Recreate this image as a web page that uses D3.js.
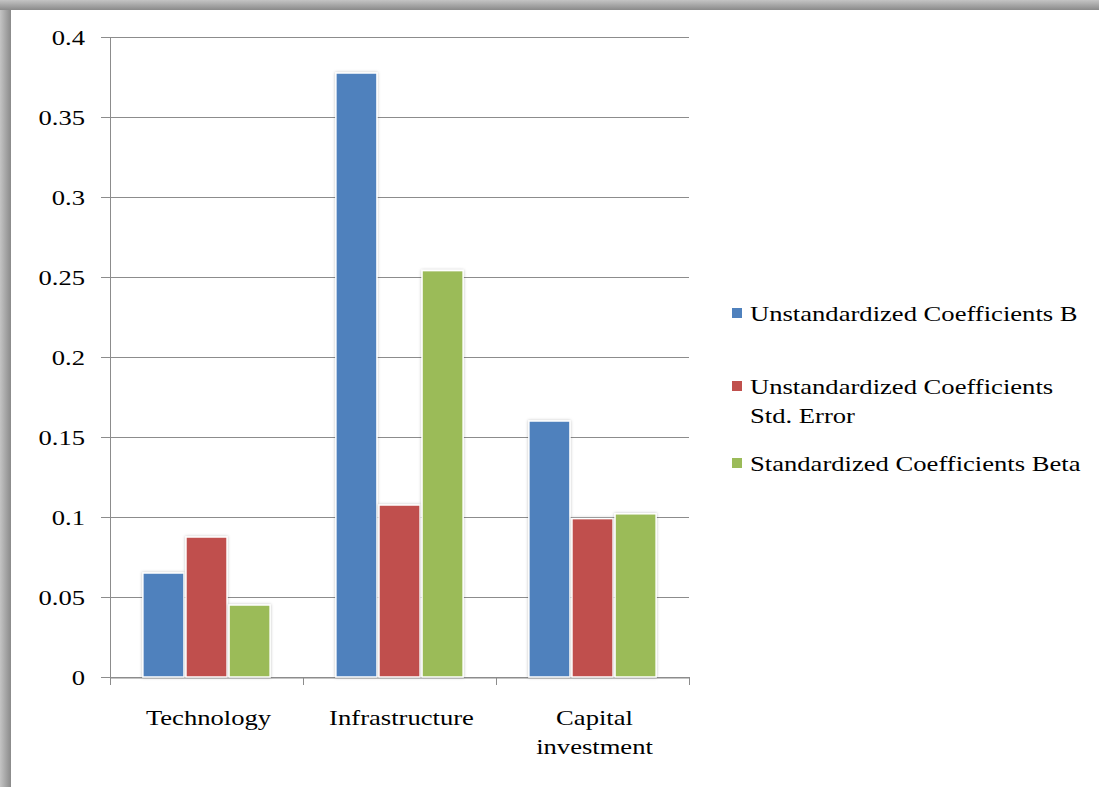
<!DOCTYPE html>
<html>
<head>
<meta charset="utf-8">
<script src="https://cdn.jsdelivr.net/npm/d3@7"></script>
<style>
  body { margin: 0; background: #fff; }
  svg { display: block; }
  svg text { font-family: "Liberation Serif", "Times New Roman", serif; }
</style>
</head>
<body>
<div id="chart-area"></div>
<script>
var categories = ['Technology', 'Infrastructure', 'Capital investment'];
var seriesNames = ['Unstandardized Coefficients B', 'Unstandardized Coefficients Std. Error', 'Standardized Coefficients Beta'];
var seriesB = [0.065, 0.3775, 0.16];
var seriesStdError = [0.0875, 0.1075, 0.099];
var seriesBeta = [0.045, 0.254, 0.102];
var yTicks = [0, 0.05, 0.1, 0.15, 0.2, 0.25, 0.3, 0.35, 0.4];
var colors = ['#4F81BD', '#C0504D', '#9BBB59'];

var W = 1099, H = 787;
var margin = { left: 110, top: 37 };
var width = 579, height = 640;
var sx = 1.21; // the original text is drawn a bit wide

var svg = d3.select('#chart-area')
  .append('svg')
  .attr('width', W)
  .attr('height', H);

var defs = svg.append('defs');
var gl = defs.append('linearGradient').attr('id', 'edgeLeft').attr('x1', 0).attr('x2', 1).attr('y1', 0).attr('y2', 0);
gl.append('stop').attr('offset', '0%').attr('stop-color', '#c4c4c4');
gl.append('stop').attr('offset', '100%').attr('stop-color', '#8a8a8a');
var gt = defs.append('linearGradient').attr('id', 'edgeTop').attr('x1', 0).attr('x2', 0).attr('y1', 0).attr('y2', 1);
gt.append('stop').attr('offset', '0%').attr('stop-color', '#c4c4c4');
gt.append('stop').attr('offset', '100%').attr('stop-color', '#8a8a8a');

var shadow = defs.append('filter').attr('id', 'barShadow')
  .attr('x', '-20%').attr('y', '-5%').attr('width', '140%').attr('height', '110%');
shadow.append('feDropShadow').attr('dx', 0).attr('dy', 0).attr('stdDeviation', 1.5)
  .attr('flood-color', '#000').attr('flood-opacity', 0.25);

// frame edges
svg.append('rect').attr('x', 0).attr('y', 0).attr('width', W).attr('height', H).attr('fill', '#fff');
svg.append('rect').attr('x', 0).attr('y', 0).attr('width', 11).attr('height', H).attr('fill', 'url(#edgeLeft)');
svg.append('rect').attr('x', 0).attr('y', 0).attr('width', W).attr('height', 10).attr('fill', 'url(#edgeTop)');

var g = svg.append('g')
  .attr('transform', 'translate(' + margin.left + ', ' + margin.top + ')');

var y = d3.scaleLinear()
  .domain([0, 0.4])
  .range([height, 0]);

var x0 = d3.scaleBand()
  .domain(categories)
  .range([0, width])
  .padding(0);

var x1 = d3.scaleBand()
  .domain(d3.range(3))
  .range([0, x0.bandwidth()])
  .paddingInner(0)
  .paddingOuter(0.74);

// gridlines
g.append('g')
  .selectAll('line')
  .data(yTicks)
  .enter()
  .append('line')
    .attr('x1', -9)
    .attr('x2', width)
    .attr('y1', function(d) { return Math.round(y(d)) + 0.5; })
    .attr('y2', function(d) { return Math.round(y(d)) + 0.5; })
    .attr('stroke', '#8c8c8c')
    .attr('stroke-width', 1);

// Y axis
var yAxisCall = d3.axisLeft(y)
  .tickValues(yTicks)
  .tickSize(0)
  .tickFormat(function(d) { return String(+d.toFixed(2)); });
var yAxis = g.append('g').call(yAxisCall);
yAxis.select('.domain').remove();
yAxis.selectAll('text')
  .attr('x', -25 / sx)
  .attr('transform', 'scale(' + sx + ',1)')
  .style('font-size', '22px')
  .attr('fill', '#000');

g.append('line')
  .attr('x1', 0.5).attr('x2', 0.5)
  .attr('y1', 0).attr('y2', height)
  .attr('stroke', '#8c8c8c');

// X axis
var xAxisCall = d3.axisBottom(x0).tickSize(0).tickFormat('');
var xAxis = g.append('g')
  .attr('transform', 'translate(0, ' + (height + 0.5) + ')')
  .call(xAxisCall);
xAxis.select('.domain').attr('stroke', '#8c8c8c');
xAxis.selectAll('.tick').remove();

// category separator ticks
var sepPos = [0, width / 3, 2 * width / 3, width];
g.append('g')
  .selectAll('line')
  .data(sepPos)
  .enter()
  .append('line')
    .attr('x1', function(d) { return Math.round(d) + 0.5; })
    .attr('x2', function(d) { return Math.round(d) + 0.5; })
    .attr('y1', height)
    .attr('y2', height + 8)
    .attr('stroke', '#8c8c8c');

// category labels
var catLines = [['Technology'], ['Infrastructure'], ['Capital', 'investment']];
categories.forEach(function(c, i) {
  var cx = x0(c) + x0.bandwidth() / 2 + 2;
  var t = g.append('g')
    .attr('transform', 'translate(' + cx + ',' + (height + 48) + ') scale(' + sx + ',1)')
    .append('text')
    .attr('text-anchor', 'middle')
    .style('font-size', '22px')
    .attr('fill', '#000');
  catLines[i].forEach(function(line, j) {
    t.append('tspan')
      .attr('x', 0)
      .attr('dy', j === 0 ? 0 : 29)
      .text(line);
  });
});

// bars
var allSeries = [seriesB, seriesStdError, seriesBeta];
var barData = [];
categories.forEach(function(c, i) {
  allSeries.forEach(function(s, k) {
    barData.push({ cat: c, k: k, value: s[i] });
  });
});

g.append('g')
  .selectAll('rect')
  .data(barData)
  .enter()
  .append('rect')
    .attr('x', function(d) { return x0(d.cat) + x1(d.k) + 1; })
    .attr('width', x1.bandwidth() - 2)
    .attr('y', function(d) { return y(d.value); })
    .attr('height', function(d) { return height - y(d.value); })
    .attr('fill', function(d) { return colors[d.k]; })
    .attr('stroke', '#fff')
    .attr('stroke-width', 1.5)
    .attr('filter', 'url(#barShadow)');

// legend
var legendItems = [
  { lines: ['Unstandardized Coefficients B'], y: 313 },
  { lines: ['Unstandardized Coefficients', 'Std. Error'], y: 386 },
  { lines: ['Standardized Coefficients Beta'], y: 463 }
];
var legend = svg.append('g');
legendItems.forEach(function(item, i) {
  legend.append('rect')
    .attr('x', 732)
    .attr('y', item.y - 5)
    .attr('width', 10)
    .attr('height', 10)
    .attr('fill', colors[i]);
  var t = legend.append('g')
    .attr('transform', 'translate(750,' + (item.y + 8) + ') scale(' + sx + ',1)')
    .append('text')
    .style('font-size', '22px')
    .attr('fill', '#000');
  item.lines.forEach(function(line, j) {
    t.append('tspan')
      .attr('x', 0)
      .attr('dy', j === 0 ? 0 : 29)
      .text(line);
  });
});
</script>
</body>
</html>
